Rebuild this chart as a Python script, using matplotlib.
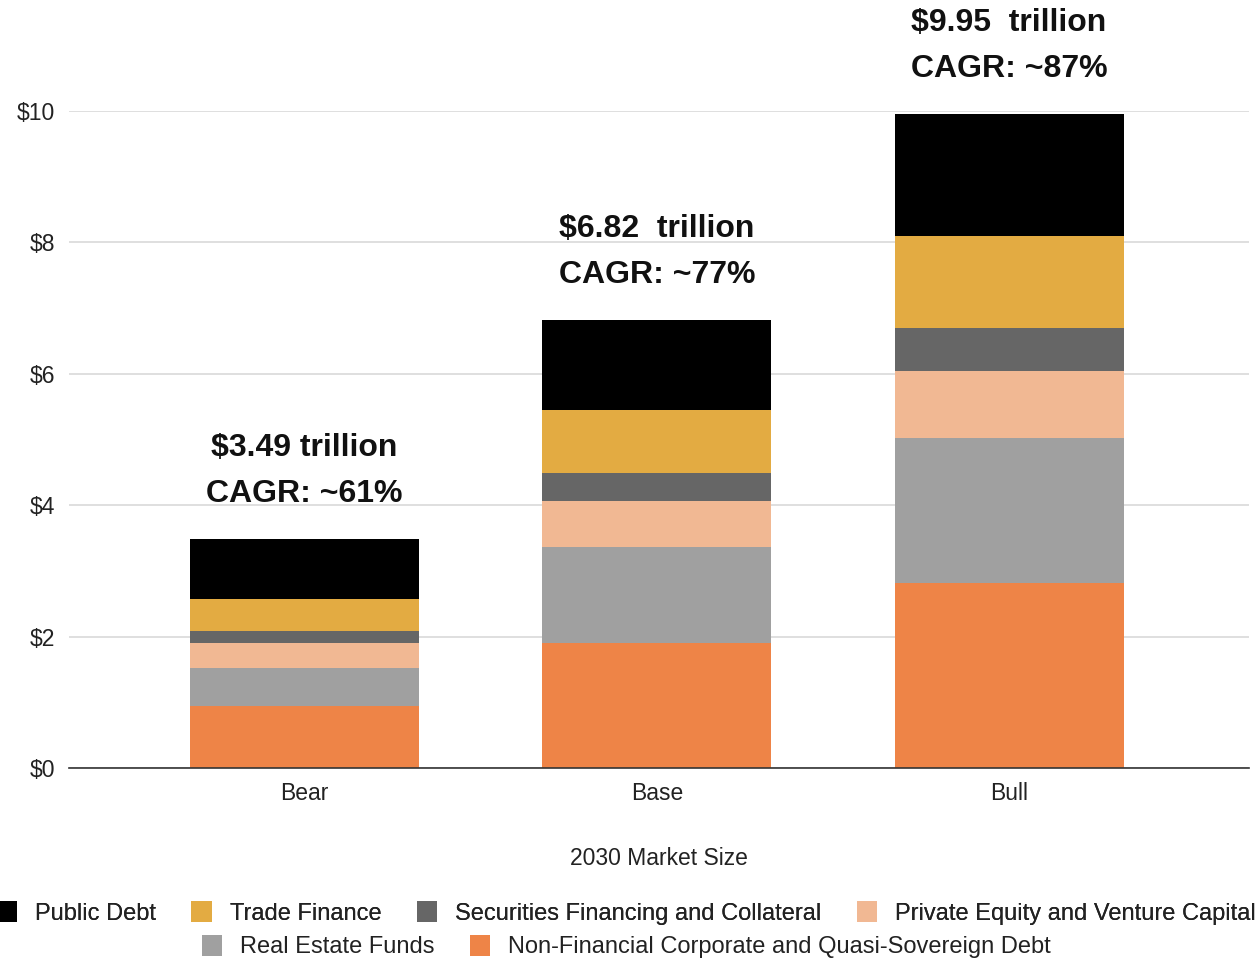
import numpy as np
import matplotlib.pyplot as plt
from matplotlib.patches import Patch

plt.rcParams['font.family'] = ['Liberation Sans', 'DejaVu Sans']

# 2030 market size by scenario, trillions of USD
scenarios = ["Bear", "Base", "Bull"]
totals = ["$3.49 trillion", "$6.82  trillion", "$9.95  trillion"]
cagr = ["CAGR: ~61%", "CAGR: ~77%", "CAGR: ~87%"]

non_financial_debt = [0.94, 1.90, 2.82]
real_estate_funds = [0.58, 1.46, 2.20]
private_equity_vc = [0.38, 0.70, 1.02]
securities_financing = [0.19, 0.43, 0.66]
trade_finance = [0.48, 0.96, 1.40]
public_debt = [0.92, 1.37, 1.85]

# bottom to top
stack = [
    ("Non-Financial Corporate and Quasi-Sovereign Debt", non_financial_debt, "#ee8447"),
    ("Real Estate Funds", real_estate_funds, "#a0a0a0"),
    ("Private Equity and Venture Capital", private_equity_vc, "#f1b893"),
    ("Securities Financing and Collateral", securities_financing, "#666666"),
    ("Trade Finance", trade_finance, "#e3ab42"),
    ("Public Debt", public_debt, "#000000"),
]

fig = plt.figure(figsize=(12.6, 9.63), dpi=100)
ax = fig.add_axes([0.055, 0.2025, 0.936, 0.6825])

x = np.arange(len(scenarios))
bottom = np.zeros(len(scenarios))
handles = {}
for name, vals, col in stack:
    ax.bar(x, vals, width=0.65, bottom=bottom, color=col, zorder=3)
    handles[name] = Patch(facecolor=col)
    bottom += np.array(vals)

for i in range(len(scenarios)):
    ax.text(x[i], bottom[i] + 0.45, totals[i] + "\n" + cagr[i], ha="center", va="bottom",
            fontsize=23, fontweight="bold", color="#111111", linespacing=1.7, clip_on=False)

ax.set_ylim(0, 10)
ax.set_xlim(-0.668, 2.68)
ax.set_yticks(np.arange(0, 11, 2))
ax.set_yticklabels(["$%d" % v for v in range(0, 11, 2)])
ax.set_xticks(x)
ax.set_xticklabels(scenarios)
ax.grid(axis="y", color="#d9d9d9", linewidth=1.2, zorder=0)
for s in ["top", "right", "left"]:
    ax.spines[s].set_visible(False)
ax.spines["bottom"].set_color("#333333")
ax.spines["bottom"].set_linewidth(1.2)
ax.spines["bottom"].set_zorder(4)
ax.tick_params(axis="both", length=0, labelsize=16.5, labelcolor="#222222")
ax.tick_params(axis="y", pad=10)
ax.tick_params(axis="x", pad=10)
ax.set_xlabel("2030 Market Size", fontsize=16.5, color="#222222", labelpad=30)

row1 = ["Public Debt", "Trade Finance", "Securities Financing and Collateral",
        "Private Equity and Venture Capital"]
row2 = ["Real Estate Funds", "Non-Financial Corporate and Quasi-Sovereign Debt"]
leg_kw = dict(frameon=False, fontsize=17, handlelength=0.87, handleheight=1.0,
              handletextpad=0.75, columnspacing=1.5, labelcolor="#222222",
              borderpad=0, borderaxespad=0)
leg1 = fig.legend([handles[n] for n in row1], row1, ncol=4, loc="center",
                  bbox_to_anchor=(0.497, 0.052), **leg_kw)
fig.add_artist(leg1)
fig.legend([handles[n] for n in row2], row2, ncol=2, loc="center",
           bbox_to_anchor=(0.497, 0.017), **leg_kw)

fig.savefig("out.png", dpi=100)
